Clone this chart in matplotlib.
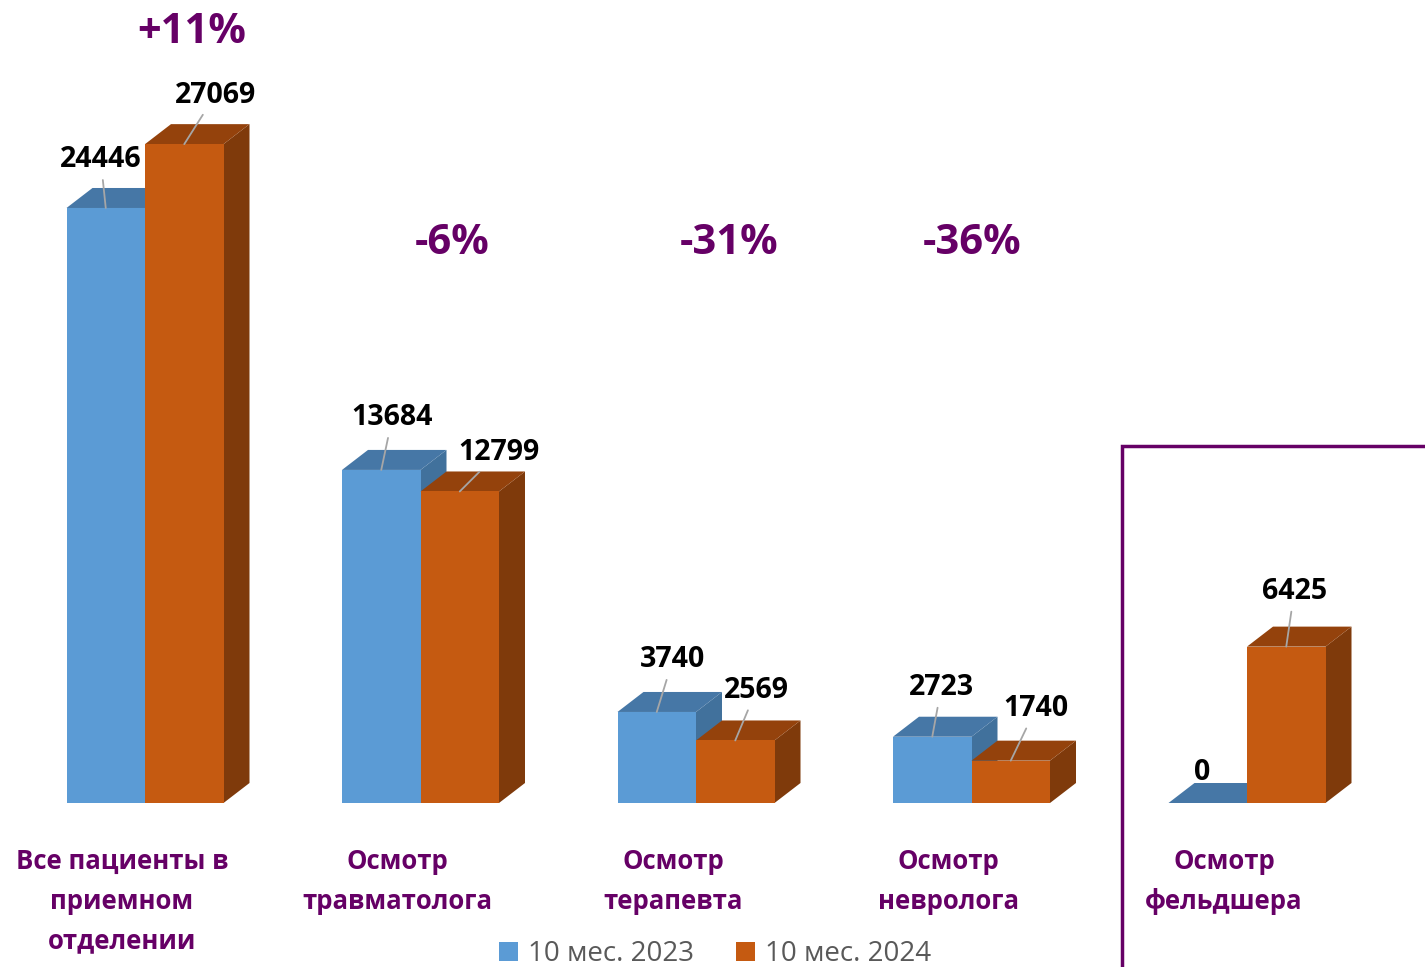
import numpy as np
import matplotlib.pyplot as plt
from matplotlib.patches import Polygon, Rectangle, Patch

categories = [
    "Все пациенты в\nприемном\nотделении",
    "Осмотр\nтравматолога",
    "Осмотр\nтерапевта",
    "Осмотр\nневролога",
    "Осмотр\nфельдшера",
]
values_2023 = [24446, 13684, 3740, 2723, 0]
values_2024 = [27069, 12799, 2569, 1740, 6425]
changes = ["+11%", "-6%", "-31%", "-36%", ""]
series_names = ["10 мес. 2023", "10 мес. 2024"]

# colours: front, top, side
BLUE = ("#5B9BD5", "#4677A6", "#41719C")
ORANGE = ("#C55A11", "#94420C", "#7F3A0B")
PURPLE = "#660066"
FONT = "Open Sans"

# layout (px offsets for labels, measured from the bar's top-front centre)
label_off_2023 = [(-5, 48), (11, 52), (16, 52), (9, 49), (-6, 31)]
label_off_2024 = [(31, 49), (39, 39), (21, 50), (25, 52), (8, 55)]
change_dx = [47, 32, 33, 1, 0]

W, H = 1425, 967
PX_X = 275.5            # px per category step
PX_Y = 0.02434          # px per unit
BASE = 803              # baseline pixel row
X0 = 145                # px of first category centre
BAR_W = 78.5 / PX_X
DEPTH_X = 26 / PX_X
DEPTH_Y = 20 / PX_Y

fig = plt.figure(figsize=(W / 100, H / 100), dpi=100)
ax = fig.add_axes([0, 0, 1, 1])
ax.set_xlim(-X0 / PX_X, (W - X0) / PX_X)
ax.set_ylim(-(H - BASE) / PX_Y, BASE / PX_Y)
ax.axis("off")


def bar3d(x0, h, colors):
    front, top, side = colors
    ax.add_patch(Polygon([(x0 + BAR_W, 0), (x0 + BAR_W + DEPTH_X, DEPTH_Y),
                          (x0 + BAR_W + DEPTH_X, h + DEPTH_Y), (x0 + BAR_W, h)],
                         closed=True, fc=side, ec="none"))
    ax.add_patch(Polygon([(x0, h), (x0 + BAR_W, h), (x0 + BAR_W + DEPTH_X, h + DEPTH_Y),
                          (x0 + DEPTH_X, h + DEPTH_Y)],
                         closed=True, fc=top, ec="none"))
    if h > 0:
        ax.add_patch(Rectangle((x0, 0), BAR_W, h, fc=front, ec="none"))


def value_label(xc, h, off):
    dx, dy = off
    arrow = None
    if h > 0:
        arrow = dict(arrowstyle="-", color="#A6A6A6", lw=1.3, shrinkA=2, shrinkB=0)
    ax.annotate(f"{h}", xy=(xc, h), xytext=(dx, dy), textcoords="offset pixels",
                ha="center", va="center", fontsize=20.5, fontweight="bold",
                family=FONT, color="black", arrowprops=arrow)


x = np.arange(len(categories))
for i in x:
    bar3d(i - BAR_W, values_2023[i], BLUE)
    bar3d(i, values_2024[i], ORANGE)

for i in x:
    value_label(i - BAR_W / 2, values_2023[i], label_off_2023[i])
    value_label(i + BAR_W / 2, values_2024[i], label_off_2024[i])

for i in x:
    if not changes[i]:
        continue
    top = max(values_2023[i], values_2024[i])
    y = 23000 if top < 20000 else top + 4600
    ax.text(i + change_dx[i] / PX_X, y, changes[i], ha="center", va="center",
            fontsize=30, fontweight="bold", family=FONT, color=PURPLE)

for i in x:
    ax.text(i - 23 / PX_X, -(848 - BASE) / PX_Y, categories[i], ha="center", va="top",
            fontsize=18.5, fontweight="bold", family=FONT, color=PURPLE,
            linespacing=1.6)

# frame around the last category
ax.add_patch(Rectangle((1122 / W, -0.05), 0.3, 1 - 446 / H + 0.05, transform=ax.transAxes,
                       fill=False, ec=PURPLE, lw=2.5, clip_on=False))

handles = [Patch(fc=BLUE[0]), Patch(fc=ORANGE[0])]
fig.legend(handles, series_names, loc="center", bbox_to_anchor=(715 / W, 1 - 954 / H),
           ncol=2, frameon=False, handlelength=0.7, handleheight=0.7,
           handletextpad=0.35, columnspacing=1.5,
           prop=dict(family=FONT, size=20), labelcolor="#595959")

fig.savefig("out.png", dpi=100)
